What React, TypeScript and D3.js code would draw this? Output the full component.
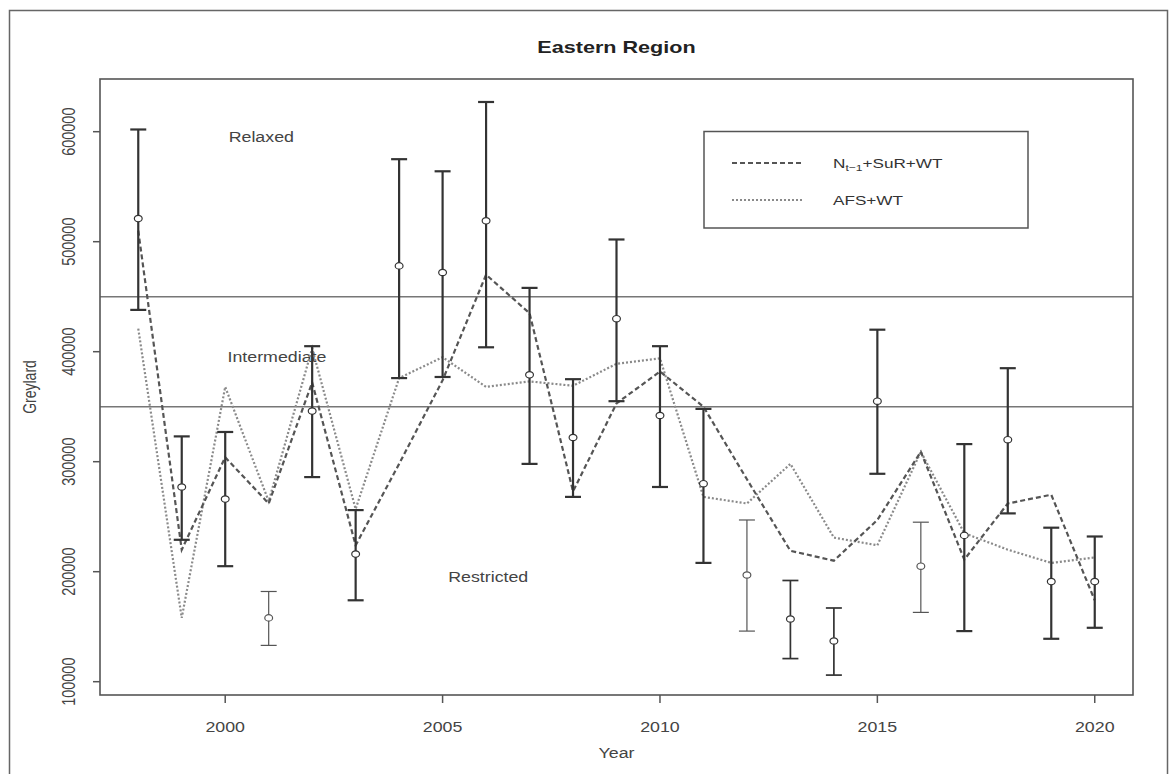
import React from 'react';
import * as d3 from 'd3';

// Survey years and annual Greylard estimates with their confidence limits
const years = [1998, 1999, 2000, 2001, 2002, 2003, 2004, 2005, 2006, 2007, 2008, 2009, 2010, 2011, 2012, 2013, 2014, 2015, 2016, 2017, 2018, 2019, 2020];
const estimate = [521000, 277000, 266000, 158000, 346000, 216000, 478000, 472000, 519000, 379000, 322000, 430000, 342000, 280000, 197000, 157000, 137000, 355000, 205000, 233000, 320000, 191000, 191000];
const lower = [438000, 229000, 205000, 133000, 286000, 174000, 376000, 377000, 404000, 298000, 268000, 355000, 277000, 208000, 146000, 121000, 106000, 289000, 163000, 146000, 253000, 139000, 149000];
const upper = [602000, 323000, 327000, 182000, 405000, 256000, 575000, 564000, 627000, 458000, 375000, 502000, 405000, 348000, 247000, 192000, 167000, 420000, 245000, 316000, 385000, 240000, 232000];

// Model predictions
const predNSuRWT = [510000, 220000, 304000, 262000, 372000, 224000, 298000, 374000, 470000, 435000, 273000, 353000, 382000, 350000, 284000, 219000, 210000, 247000, 309000, 211000, 262000, 270000, 174000];
const predAFSWT = [421000, 158000, 368000, 264000, 403000, 257000, 376000, 395000, 368000, 373000, 369000, 389000, 394000, 268000, 262000, 298000, 231000, 224000, 309000, 235000, 220000, 208000, 213000];

// Management zone boundaries and names
const thresholds = [350000, 450000];
const zoneNames = ['Relaxed', 'Intermediate', 'Restricted'];

// Axis ticks
const xTicks = [2000, 2005, 2010, 2015, 2020];
const yTicks = [100000, 200000, 300000, 400000, 500000, 600000];

// Years whose interval is drawn with a lighter stroke
const lightYears = new Set([2001, 2012, 2016]);
const mediumYears = new Set([2013, 2014]);

const W = 1171;
const H = 774;
const plot = { left: 100, right: 1133, top: 79, bottom: 695 };
const FONT = '"Liberation Sans", Arial, Helvetica, sans-serif';
const SX = 1.27; // horizontal glyph stretch

const x = d3.scaleLinear().domain([1997.12, 2020.88]).range([plot.left, plot.right]);
const y = d3.scaleLinear().domain([87900, 647900]).range([plot.bottom, plot.top]);

function HText(props: { x: number; y: number; size: number; anchor?: string; weight?: string; fill?: string; children: React.ReactNode }) {
  return (
    <text
      transform={`translate(${props.x},${props.y}) scale(${SX},1)`}
      fontSize={props.size}
      fontFamily={FONT}
      fontWeight={props.weight || 'normal'}
      textAnchor={props.anchor || 'middle'}
      fill={props.fill || '#333'}
    >
      {props.children}
    </text>
  );
}

export default function App() {
  const line = d3
    .line<number>()
    .x((_, i) => x(years[i]))
    .y((d) => y(d));

  const zonePos = [
    { name: zoneNames[0], yr: 2000.83, v: 595000 },
    { name: zoneNames[1], yr: 2001.19, v: 395000 },
    { name: zoneNames[2], yr: 2006.05, v: 195000 },
  ];

  return (
    <svg width={W} height={H} style={{ position: 'absolute', left: 0, top: 0, display: 'block', background: '#fff' }}>
      {/* outer frame */}
      <rect x={9.5} y={10.5} width={1158} height={790} fill="none" stroke="#666" strokeWidth={1.5} />

      {/* title */}
      <HText x={(plot.left + plot.right) / 2} y={53} size={17} weight="bold" fill="#222">
        Eastern Region
      </HText>

      {/* zone thresholds */}
      {thresholds.map((t) => (
        <line key={t} x1={plot.left} x2={plot.right} y1={y(t)} y2={y(t)} stroke="#777" strokeWidth={1.6} />
      ))}

      {/* zone names */}
      {zonePos.map((z) => (
        <HText key={z.name} x={x(z.yr)} y={y(z.v) + 5} size={14} fill="#444">
          {z.name}
        </HText>
      ))}

      {/* model lines */}
      <path d={line(predAFSWT) || ''} fill="none" stroke="#8a8a8a" strokeWidth={2.2} strokeDasharray="2,2" />
      <path d={line(predNSuRWT) || ''} fill="none" stroke="#555" strokeWidth={2.2} strokeDasharray="5,3" />

      {/* estimates with intervals */}
      {years.map((yr, i) => {
        const cx = x(yr);
        const light = lightYears.has(yr);
        const medium = mediumYears.has(yr);
        const sw = light ? 1.2 : medium ? 1.7 : 2.2;
        const col = light ? '#555' : '#333';
        const hw = 8;
        return (
          <g key={yr}>
            <line x1={cx} x2={cx} y1={y(lower[i])} y2={y(upper[i])} stroke={col} strokeWidth={sw} />
            <line x1={cx - hw} x2={cx + hw} y1={y(lower[i])} y2={y(lower[i])} stroke={col} strokeWidth={sw} />
            <line x1={cx - hw} x2={cx + hw} y1={y(upper[i])} y2={y(upper[i])} stroke={col} strokeWidth={sw} />
            <ellipse cx={cx} cy={y(estimate[i])} rx={3.9} ry={3.2} fill="#fff" stroke={col} strokeWidth={1.2} />
          </g>
        );
      })}

      {/* plot box */}
      <rect x={plot.left} y={plot.top} width={plot.right - plot.left} height={plot.bottom - plot.top} fill="none" stroke="#555" strokeWidth={1.6} />

      {/* x axis */}
      {xTicks.map((t) => (
        <g key={t}>
          <line x1={x(t)} x2={x(t)} y1={plot.bottom} y2={plot.bottom + 8} stroke="#555" strokeWidth={1.5} />
          <HText x={x(t)} y={732} size={14} fill="#444">
            {t}
          </HText>
        </g>
      ))}
      <HText x={(plot.left + plot.right) / 2} y={758} size={14} fill="#444">
        Year
      </HText>

      {/* y axis */}
      {yTicks.map((t) => (
        <g key={t}>
          <line x1={plot.left - 7} x2={plot.left} y1={y(t)} y2={y(t)} stroke="#555" strokeWidth={1.5} />
          <text
            transform={`translate(75,${y(t)}) scale(${SX},1) rotate(-90)`}
            fontSize={14.5}
            fontFamily={FONT}
            textAnchor="middle"
            fill="#444"
          >
            {t}
          </text>
        </g>
      ))}
      <text
        transform={`translate(36,${(plot.top + plot.bottom) / 2}) scale(${SX},1) rotate(-90)`}
        fontSize={14}
        fontFamily={FONT}
        textAnchor="middle"
        fill="#444"
      >
        Greylard
      </text>

      {/* legend */}
      <rect x={704} y={131.5} width={324} height={96.5} fill="#fff" stroke="#555" strokeWidth={1.5} />
      <line x1={732} x2={802} y1={163} y2={163} stroke="#555" strokeWidth={2.2} strokeDasharray="5,3" />
      <HText x={833} y={167.5} size={13.5} anchor="start" fill="#333">
        N<tspan fontSize={9.5} dy={3.5}>t−1</tspan>
        <tspan dy={-3.5}>+SuR+WT</tspan>
      </HText>
      <line x1={732} x2={802} y1={200} y2={200} stroke="#8a8a8a" strokeWidth={2.2} strokeDasharray="2,2" />
      <HText x={833} y={205} size={13.5} anchor="start" fill="#333">
        AFS+WT
      </HText>
    </svg>
  );
}
